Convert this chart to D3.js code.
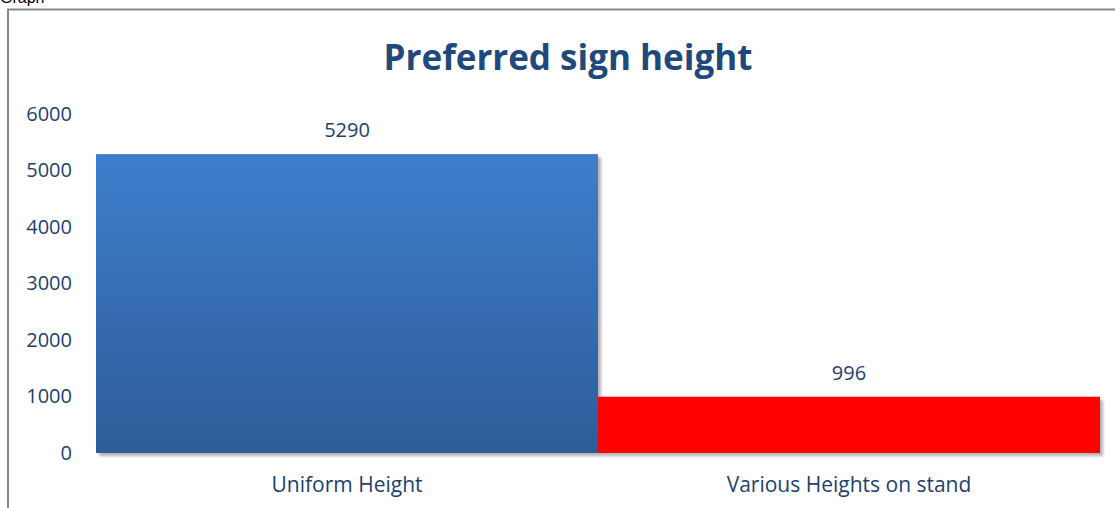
<!DOCTYPE html>
<html>
<head>
<meta charset="utf-8">
<script src="https://cdn.jsdelivr.net/npm/d3@7"></script>
<style>
  body { margin: 0; background: #fff; }
  svg { display: block; }
</style>
</head>
<body>
<div id="chart"></div>
<script>
var width = 1115
var height = 508

// data
var categories = ["Uniform Height", "Various Heights on stand"]
var values = [5290, 996]
var barColors = ["url(#blueGrad)", "#ff0000"]
var yTicks = [0, 1000, 2000, 3000, 4000, 5000, 6000]

var margin = {left: 96, right: 15, top: 114, bottom: 55}

var svg = d3.select("#chart")
  .append("svg")
    .attr("width", width)
    .attr("height", height)

var defs = svg.append("defs")
var grad = defs.append("linearGradient")
  .attr("id", "blueGrad")
  .attr("x1", 0).attr("y1", 0).attr("x2", 0).attr("y2", 1)
grad.append("stop").attr("offset", "0%").attr("stop-color", "#3d7ecd")
grad.append("stop").attr("offset", "100%").attr("stop-color", "#2e5c99")

var shadow = defs.append("filter").attr("id", "shadow")
  .attr("x", "-5%").attr("y", "-5%").attr("width", "115%").attr("height", "115%")
shadow.append("feGaussianBlur").attr("in", "SourceAlpha").attr("stdDeviation", 1.5)
shadow.append("feOffset").attr("dx", 3).attr("dy", 3).attr("result", "b")
shadow.append("feComponentTransfer").append("feFuncA").attr("type", "linear").attr("slope", 0.3)
var merge = shadow.append("feMerge")
merge.append("feMergeNode")
merge.append("feMergeNode").attr("in", "SourceGraphic")

// chart frame (cut off at right and bottom)
svg.append("path")
  .attr("d", "M8,520 V9.5 H1120")
  .attr("fill", "none")
  .attr("stroke", "#888")
  .attr("stroke-width", 2)

// partially visible caption above the frame
svg.append("text")
  .attr("x", 0).attr("y", 3)
  .style("font-family", "'Liberation Sans', sans-serif")
  .style("font-size", "16px")
  .attr("fill", "#000")
  .text("Graph")

var x = d3.scaleBand()
  .domain(categories)
  .range([margin.left, 1100])
  .padding(0)

var y = d3.scaleLinear()
  .domain([0, 6000])
  .range([453, 114])

var labelFont = "'Open Sans', sans-serif"
var labelColor = "#1f3f6e"

// title
svg.append("text")
  .attr("x", 568)
  .attr("y", 70)
  .attr("text-anchor", "middle")
  .style("font-family", labelFont)
  .style("font-weight", "bold")
  .style("font-size", "35px")
  .attr("fill", "#1f497d")
  .text("Preferred sign height")

// y axis labels
var yAxis = d3.axisLeft(y).tickValues(yTicks).tickFormat(d3.format("d")).tickSize(0).tickPadding(24)
var yg = svg.append("g")
  .attr("transform", "translate(" + margin.left + ",0)")
  .call(yAxis)
yg.select(".domain").remove()
yg.selectAll("text")
  .style("font-family", labelFont)
  .style("font-size", "20px")
  .attr("fill", labelColor)

// bars
var bars = svg.append("g").attr("filter", "url(#shadow)")
bars.selectAll("rect")
  .data(values)
  .enter()
  .append("rect")
    .attr("x", function(d, i) { return x(categories[i]) })
    .attr("y", function(d) { return y(d) })
    .attr("width", x.bandwidth())
    .attr("height", function(d) { return y(0) - y(d) })
    .attr("fill", function(d, i) { return barColors[i] })

// baseline
svg.append("line")
  .attr("x1", margin.left).attr("x2", 1100)
  .attr("y1", y(0)).attr("y2", y(0))
  .attr("stroke", "#000")
  .attr("stroke-width", 2.5)
  .attr("filter", "url(#shadow)")

// value labels
svg.append("g").selectAll("text")
  .data(values)
  .enter()
  .append("text")
    .attr("x", function(d, i) { return x(categories[i]) + x.bandwidth() / 2 })
    .attr("y", function(d) { return y(d) - 17 })
    .attr("text-anchor", "middle")
    .style("font-family", labelFont)
    .style("font-size", "20px")
    .attr("fill", labelColor)
    .text(function(d) { return d })

// x axis labels
var xAxis = d3.axisBottom(x).tickSize(0).tickPadding(24)
var xg = svg.append("g")
  .attr("transform", "translate(0," + y(0) + ")")
  .call(xAxis)
xg.select(".domain").remove()
xg.selectAll("text")
  .style("font-family", labelFont)
  .style("font-size", "21px")
  .attr("fill", labelColor)
</script>
</body>
</html>
